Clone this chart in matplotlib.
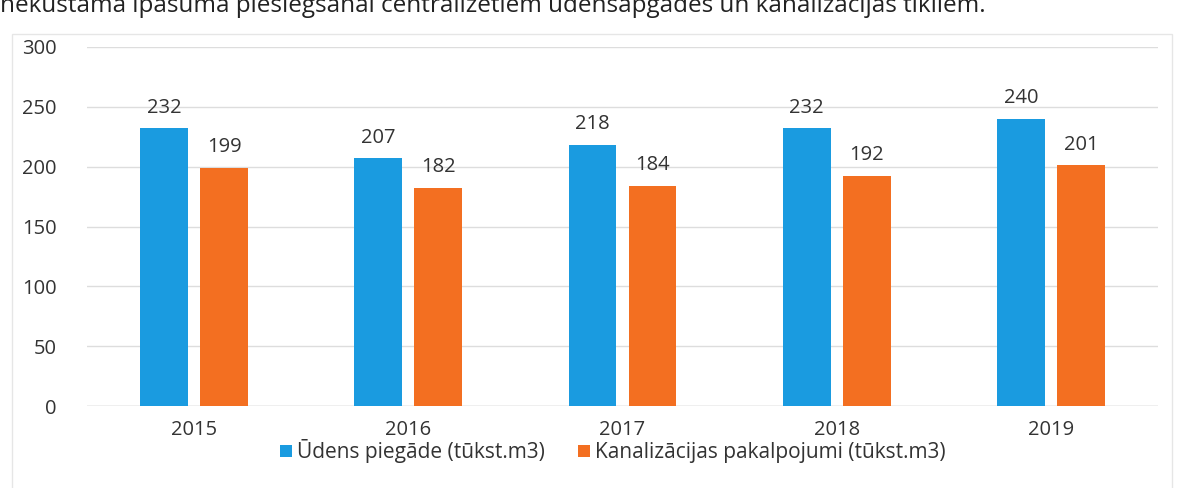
import matplotlib
matplotlib.use("Agg")
import matplotlib.pyplot as plt
import numpy as np
from matplotlib.patches import Rectangle

years = ["2015", "2016", "2017", "2018", "2019"]
water = [232, 207, 218, 232, 240]
sewer = [199, 182, 184, 192, 201]
series_names = ["Ūdens piegāde (tūkst.m3)", "Kanalizācijas pakalpojumi (tūkst.m3)"]
yticks = [0, 50, 100, 150, 200, 250, 300]
top_text = "nekustamā īpašuma pieslēgšanai centralizētiem ūdensapgādes un kanalizācijas tīkliem."

plt.rcParams['font.family'] = ['Open Sans', 'DejaVu Sans']

fig = plt.figure(figsize=(11.9, 4.88), dpi=100)
ax = fig.add_axes([0.0731, 0.168, 0.9, 0.7357])

blue = "#1A9BE0"
orange = "#F36F21"
txt = "#333333"
fs = 14.5
x = np.arange(len(years))
w = 0.223
off = 0.14
b1 = ax.bar(x - off, water, w, color=blue, label=series_names[0], zorder=3)
b2 = ax.bar(x + off, sewer, w, color=orange, label=series_names[1], zorder=3)

for bars, vals in ((b1, water), (b2, sewer)):
    for rect, v in zip(bars, vals):
        ax.text(rect.get_x() + rect.get_width() / 2, v + 9, str(v), ha='center', va='bottom',
                fontsize=fs, color=txt)

ax.set_xlim(-0.5, len(years) - 0.5)
ax.set_ylim(0, 300)
ax.set_yticks(yticks)
ax.set_yticklabels([str(t) for t in yticks], fontsize=fs, color=txt)
ax.set_xticks(x)
ax.set_xticklabels(years, fontsize=fs, color=txt)
ax.tick_params(axis='both', length=0)
ax.tick_params(axis='y', pad=22)
ax.tick_params(axis='x', pad=10)
ax.grid(axis='y', color="#DDDDDD", linewidth=1, zorder=0)
for s in ax.spines.values():
    s.set_visible(False)
ax.axhline(0, color="#CCCCCC", linewidth=1, zorder=2)

leg = fig.legend(handles=[b1, b2], labels=series_names, loc='center', bbox_to_anchor=(0.515, 0.075),
                 ncol=2, frameon=False, fontsize=15, handlelength=0.55, handleheight=0.55,
                 handletextpad=0.25, columnspacing=1.6, borderpad=0.1)
for t in leg.get_texts():
    t.set_color(txt)

# faint chart frame
fig.patches.append(Rectangle((0.010, -0.05), 0.975, 0.98, transform=fig.transFigure,
                             fill=False, edgecolor="#E6E6E6", linewidth=1))

# cut-off text line at the top of the scanned page
fig.text(0.0, 1 - 12 / 488, top_text, fontsize=17.5, ha='left', va='baseline', color="#222222")

fig.savefig("out.png", dpi=100, facecolor="white")
